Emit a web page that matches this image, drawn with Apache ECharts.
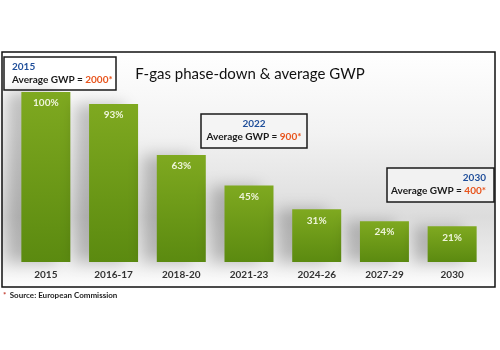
<!DOCTYPE html>
<html><head><meta charset="utf-8">
<script src="https://cdn.jsdelivr.net/npm/echarts@6/dist/echarts.min.js"></script>
<style>html,body{margin:0;padding:0;background:#fff}#c{width:500px;height:350px}</style>
</head><body><div id="c"></div>
<script>
const categories = ['2015','2016-17','2018-20','2021-23','2024-26','2027-29','2030'];
const phaseDownPct = [100, 93, 63, 45, 31, 24, 21];
const gwpYears = ['2015','2022','2030'];
const gwpValues = ['2000','900','400'];
const titleText = 'F-gas phase-down & average GWP';
const sourceText = 'Source: European Commission';

const FONT = 'Lato, "Open Sans", sans-serif';
const chart = echarts.init(document.getElementById('c'), null, {renderer:'canvas'});

function gwpBox(i, x, y, w, h, align, fill) {
  const tx = align === 'left' ? x + 8 : (align === 'center' ? x + w / 2 : x + w - 8);
  return {
    type: 'group',
    children: [
      {type:'rect', shape:{x:x, y:y, width:w, height:h}, style:{fill:fill, stroke:'#1a1a1a', lineWidth:1.5}},
      {type:'text', x:tx, y:y + 10, style:{text:gwpYears[i], fill:'#1f4e9a', font:'bold 10px ' + FONT, textAlign:align, textVerticalAlign:'middle'}},
      {type:'text', x:tx, y:y + 23, style:{
        text:'{a|Average GWP = }{b|' + gwpValues[i] + '*}',
        textAlign:align, textVerticalAlign:'middle',
        rich:{a:{fill:'#1a1a1a', font:'bold 10px ' + FONT}, b:{fill:'#e8541c', font:'bold 10px ' + FONT}}
      }}
    ]
  };
}

chart.setOption({
  animation:false,
  backgroundColor:'#ffffff',
  title:{text:titleText, left:'center', top:62, textStyle:{fontFamily:FONT, fontSize:15, fontWeight:'normal', color:'#111'}},
  grid:{left:12, right:14, top:92, bottom:88},
  xAxis:{type:'category', data:categories,
    axisLine:{show:false}, axisTick:{show:false},
    axisLabel:{margin:8, color:'#333', fontFamily:FONT, fontWeight:'bold', fontSize:10}},
  yAxis:{type:'value', min:0, max:100, show:false, splitLine:{show:false}},
  graphic:[
    {type:'rect', z:-10, shape:{x:2, y:52, width:493, height:235},
      style:{fill:new echarts.graphic.LinearGradient(0,0,0,1,[
        {offset:0, color:'#ffffff'},{offset:0.35, color:'#f2f2f2'},{offset:0.7, color:'#dcdcdc'},{offset:0.9, color:'#eeeeee'},{offset:1, color:'#ffffff'}]),
        stroke:'#111', lineWidth:1.5}},
    gwpBox(0, 4, 57, 112, 33, 'left', '#ffffff'),
    gwpBox(1, 201, 114, 106, 34, 'center', '#f4f4f4'),
    gwpBox(2, 387, 168, 107, 34, 'right', '#f2f2f2'),
    {type:'text', left:3, top:289, style:{text:'{s|*} {t|' + sourceText + '}',
      rich:{s:{fill:'#c0392b', font:'bold 8px ' + FONT}, t:{fill:'#222', font:'bold 8px ' + FONT}}}}
  ],
  series:[{
    type:'bar', data:phaseDownPct, barWidth:49,
    itemStyle:{
      color:new echarts.graphic.LinearGradient(0,0,0,1,[{offset:0,color:'#7fa920'},{offset:1,color:'#5b8a10'}]),
      shadowColor:'rgba(0,0,0,0.22)', shadowBlur:14, shadowOffsetX:-14, shadowOffsetY:0
    },
    label:{show:true, position:'insideTop', distance:6, formatter:'{c}%', color:'#eef4da', fontFamily:FONT, fontWeight:'bold', fontSize:10}
  }]
});
</script></body></html>
